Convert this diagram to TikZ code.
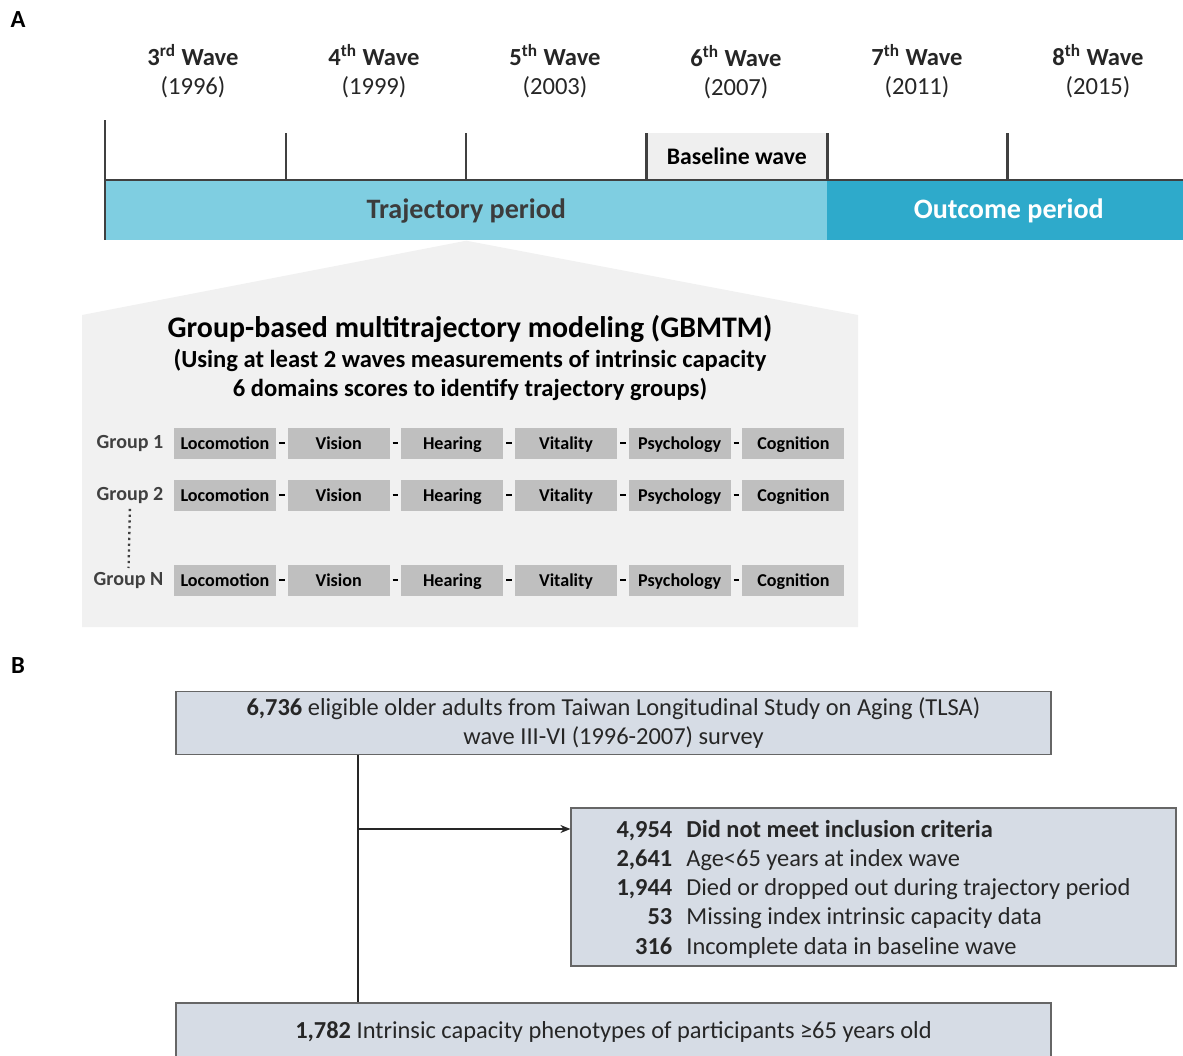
\documentclass[tikz,border=0pt]{standalone}
\usepackage{fontspec}
\setmainfont{Carlito}
\usepackage{xcolor}
\usepackage{tikz}
\usetikzlibrary{arrows.meta,positioning}
\definecolor{trajblue}{HTML}{7FCEE1}
\definecolor{outblue}{HTML}{2EAACB}
\definecolor{tickgray}{HTML}{404040}
\definecolor{panelgray}{HTML}{F1F1F1}
\definecolor{domgray}{HTML}{BFBFBF}
\definecolor{basegray}{HTML}{EFEFEF}
\definecolor{flowfill}{HTML}{D6DCE5}
\definecolor{flowline}{HTML}{666666}
\definecolor{txtgray}{HTML}{262626}

\begin{document}
\begin{tikzpicture}[
x=0.02cm,y=-0.02cm,
node distance=0.22cm,
tick/.style={tickgray,line width=1.7pt},
wave/.style={align=center,text=txtgray,font=\fontsize{14}{16.4}\selectfont},
period/.style={inner sep=0pt,anchor=north west,minimum height=1.18cm,font=\bfseries\fontsize{16}{19}\selectfont},
panelhead/.style={align=center,text=black,font=\bfseries\fontsize{17}{20}\selectfont},
panelsub/.style={align=center,text=black,font=\bfseries\fontsize{14}{16.6}\selectfont},
grouplab/.style={inner sep=0pt,text=tickgray,font=\bfseries\fontsize{11.4}{13}\selectfont},
dombox/.style={fill=domgray,inner sep=0pt,minimum width=2.04cm,minimum height=0.62cm,text height=1.5ex,text depth=0ex,font=\bfseries\fontsize{10.3}{12}\selectfont},
link/.style={line width=1.2pt,shorten <=1.5pt,shorten >=1.5pt},
flowbox/.style={draw=flowline,fill=flowfill,line width=0.7pt,inner sep=0pt,align=center,text=txtgray,font=\fontsize{13.9}{16.6}\selectfont},
arrow/.style={-{Stealth[length=2mm,width=1.6mm]},line width=0.9pt,txtgray}
]
\clip (0,0) rectangle (1183,1055);

\node[font=\bfseries\fontsize{14}{17}\selectfont] (labA) at (18,20) {A};
\node[font=\bfseries\fontsize{14}{17}\selectfont] (labB) at (18,666) {B};

\node[wave] (w3) at (193,71) {\textbf{3\textsuperscript{rd} Wave}\\(1996)};
\node[wave] (w4) at (374,71) {\textbf{4\textsuperscript{th} Wave}\\(1999)};
\node[wave] (w5) at (555,71) {\textbf{5\textsuperscript{th} Wave}\\(2003)};
\node[wave] (w6) at (736,72) {\textbf{6\textsuperscript{th} Wave}\\(2007)};
\node[wave] (w7) at (917,71) {\textbf{7\textsuperscript{th} Wave}\\(2011)};
\node[wave] (w8) at (1098,71) {\textbf{8\textsuperscript{th} Wave}\\(2015)};

\node[period,fill=trajblue,text=txtgray!90,minimum width=14.44cm] (traj) at (105,181) {Trajectory period};
\node[period,fill=outblue,text=white,minimum width=7.12cm] (outc) at (827,181) {\hspace{4pt}Outcome period};
\node[fill=basegray,inner sep=0pt,anchor=south west,minimum width=3.62cm,minimum height=0.94cm,font=\bfseries\fontsize{13.5}{16}\selectfont] (base) at (646,180) {Baseline wave};

\draw[tick] (105,120) -- (105,240);
\draw[tick] (286,133) -- (286,180);
\draw[tick] (466,133) -- (466,180);
\draw[tick] (646,133) -- (646,180);
\draw[tick] (827,133) -- (827,180);
\draw[tick] (1007,133) -- (1007,180);
\draw[tick] (105,180) -- (1190,180);

\fill[panelgray] (82,315) -- (traj.south) -- (858,315) -- (858,627) -- (82,627) -- cycle;
\node[panelhead] (gbmtm) at (470,329) {Group-based multitrajectory modeling (GBMTM)};
\node[panelsub] (gbsub) at (470,375) {(Using at least 2 waves measurements of intrinsic capacity\\6 domains scores to identify trajectory groups)};

\node[dombox] (loc1) at (225,443) {Locomotion};
\node[dombox,right=of loc1] (vis1) {Vision};
\node[dombox,right=of vis1] (hear1) {Hearing};
\node[dombox,right=of hear1] (vit1) {Vitality};
\node[dombox,right=of vit1] (psy1) {Psychology};
\node[dombox,right=of psy1] (cog1) {Cognition};
\node[grouplab,left=0.2cm of loc1] (grp1) {Group 1};

\node[dombox] (loc2) at (225,495) {Locomotion};
\node[dombox,right=of loc2] (vis2) {Vision};
\node[dombox,right=of vis2] (hear2) {Hearing};
\node[dombox,right=of hear2] (vit2) {Vitality};
\node[dombox,right=of vit2] (psy2) {Psychology};
\node[dombox,right=of psy2] (cog2) {Cognition};
\node[grouplab,left=0.2cm of loc2] (grp2) {Group 2};

\node[dombox] (locN) at (225,580) {Locomotion};
\node[dombox,right=of locN] (visN) {Vision};
\node[dombox,right=of visN] (hearN) {Hearing};
\node[dombox,right=of hearN] (vitN) {Vitality};
\node[dombox,right=of vitN] (psyN) {Psychology};
\node[dombox,right=of psyN] (cogN) {Cognition};
\node[grouplab,left=0.2cm of locN] (grpN) {Group N};

\draw[link] (loc1)--(vis1);
\draw[link] (vis1)--(hear1);
\draw[link] (hear1)--(vit1);
\draw[link] (vit1)--(psy1);
\draw[link] (psy1)--(cog1);
\draw[link] (loc2)--(vis2);
\draw[link] (vis2)--(hear2);
\draw[link] (hear2)--(vit2);
\draw[link] (vit2)--(psy2);
\draw[link] (psy2)--(cog2);
\draw[link] (locN)--(visN);
\draw[link] (visN)--(hearN);
\draw[link] (hearN)--(vitN);
\draw[link] (vitN)--(psyN);
\draw[link] (psyN)--(cogN);
\draw[dotted,line width=1.3pt,tickgray,shorten <=3pt,shorten >=2pt] (grp2.south) -- (grpN.north);

\node[flowbox,minimum width=17.5cm,minimum height=1.26cm] (elig) at (613.5,723) {\textbf{6,736} eligible older adults from Taiwan Longitudinal Study on Aging (TLSA)\\wave III-VI (1996-2007) survey};
\node[flowbox,minimum width=12.1cm,minimum height=3.16cm] (excl) at (873.5,887) {\begin{tabular}{@{}r@{\hspace{8pt}}l@{}}
\rule{0pt}{15pt}\textbf{4,954} & \textbf{Did not meet inclusion criteria}\\
\textbf{2,641} & Age<65 years at index wave\\
\textbf{1,944} & Died or dropped out during trajectory period\\
\textbf{53} & Missing index intrinsic capacity data\\
\textbf{316} & Incomplete data in baseline wave
\end{tabular}};
\node[flowbox,minimum width=17.5cm,minimum height=1.16cm] (final) at (613.5,1032) {\textbf{1,782} Intrinsic capacity phenotypes of participants ≥65 years old};
\coordinate (split) at (358,829);
\draw[line width=0.9pt,txtgray] (elig.south -| split) -- (final.north -| split);
\draw[arrow] (split) -- (excl.west |- split);
\end{tikzpicture}
\end{document}
